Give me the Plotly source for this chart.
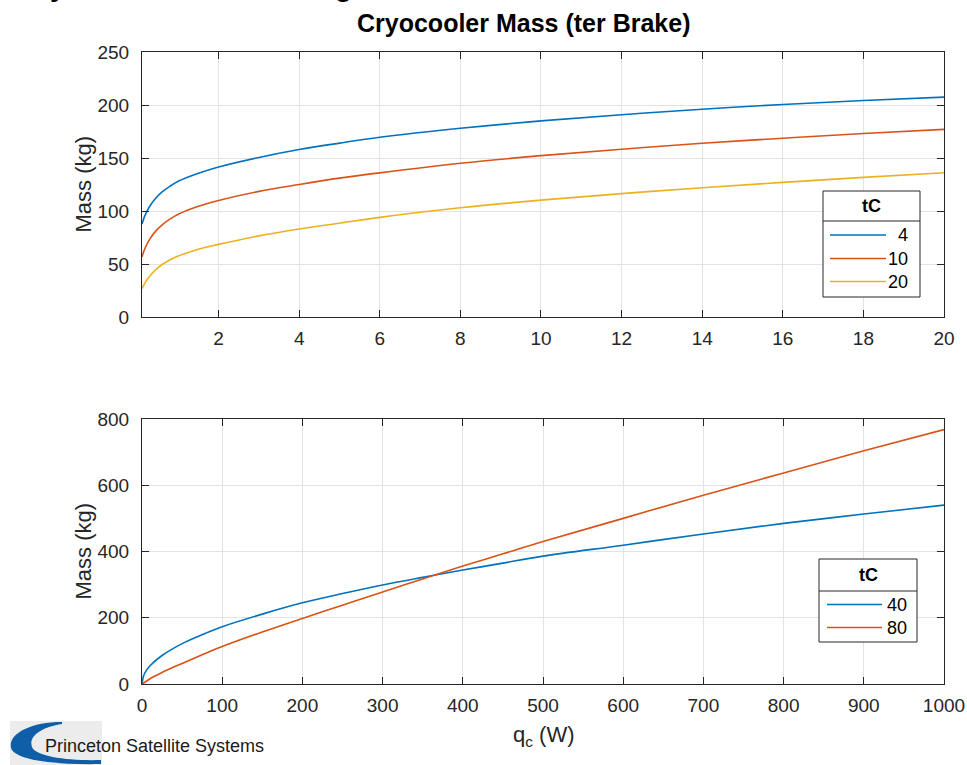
import plotly.graph_objects as go

# ---- data: cryocooler mass vs. cooling load, ter Brake scaling ----
# low-temperature cases (q_c from 0.1 to 20 W)
q_low = [0.1, 0.15, 0.2, 0.3, 0.45, 0.6, 0.8, 1, 1.5, 2, 3, 4, 5, 6, 8, 10,
         12, 14, 16, 18, 20]
mass_tc4 = [87.6, 93.5, 98, 105, 112.5, 118, 123.5, 128, 135.5, 141.5, 150.5,
            158, 164, 169.5, 178, 185, 190.8, 196, 200.5, 204.2, 207.4]
mass_tc10 = [56.7, 62.5, 67, 74, 81.5, 87, 92.5, 97, 104.5, 110, 118.5, 125,
             131, 136, 145, 152.2, 158.3, 163.9, 168.6, 173.1, 177]
mass_tc20 = [26.8, 30.5, 33.8, 39, 45, 49.5, 54, 57.5, 64, 68.5, 76.5, 83,
             88.5, 94, 103, 110.3, 116.4, 122, 127, 131.7, 136.1]

# higher-temperature cases (q_c from 0 to 1000 W)
q_high = [0, 2, 5, 10, 25, 50, 75, 100, 150, 200, 250, 300, 350, 400, 450,
          500, 600, 700, 800, 900, 1000]
mass_tc40 = [0, 25, 39, 55, 86, 122, 149, 173, 211, 245, 273, 299, 322, 344,
             365, 386, 419, 453, 485, 513, 540]
mass_tc80 = [0, 3, 7.5, 16, 35, 62, 88, 113, 157, 198, 238, 278, 317, 356,
             393, 430, 500, 570, 637, 704, 768]

low_labels = ["4", "10", "20"]
high_labels = ["40", "80"]
legend_title = "tC"

title_text = "Cryocooler Mass (ter Brake)"
ylabel = "Mass (kg)"
xlabel = "q<sub>c</sub> (W)"

BLUE, RED, YELLOW = "#0072BD", "#D95319", "#EDB120"
AXC = "#262626"
GRID = "#e3e3e3"
FONT = "Liberation Sans, Arial, sans-serif"

W, H = 967, 765


def px(x):
    return x / W


def py(y):
    return 1 - y / H


fig = go.Figure()

for ys, col in zip([mass_tc4, mass_tc10, mass_tc20], [BLUE, RED, YELLOW]):
    fig.add_trace(go.Scatter(x=q_low, y=ys, mode="lines", line_shape="spline",
                             line=dict(color=col, width=1.6),
                             xaxis="x", yaxis="y", showlegend=False))
for ys, col in zip([mass_tc40, mass_tc80], [BLUE, RED]):
    fig.add_trace(go.Scatter(x=q_high, y=ys, mode="lines", line_shape="spline",
                             line=dict(color=col, width=1.6),
                             xaxis="x2", yaxis="y2", showlegend=False))

axis_common = dict(showline=True, linecolor=AXC, linewidth=1, mirror="ticks",
                   ticks="inside", ticklen=7, tickcolor=AXC, showgrid=True,
                   gridcolor=GRID, zeroline=False, automargin=False,
                   tickfont=dict(family=FONT, size=19, color=AXC))
xaxis_extra = dict(ticklabelstandoff=4)
yaxis_extra = dict(ticklabelstandoff=8)

left, right = 142, 944
top1, bot1 = 52, 317
top2, bot2 = 419, 684
fig.update_layout(
    width=W, height=H,
    margin=dict(l=0, r=0, t=0, b=0, autoexpand=False),
    paper_bgcolor="white", plot_bgcolor="white",
    xaxis=dict(domain=[px(left), px(right)], range=[0.1, 20],
               tickvals=[2, 4, 6, 8, 10, 12, 14, 16, 18, 20], anchor="y",
               **axis_common, **xaxis_extra),
    yaxis=dict(domain=[py(bot1), py(top1)], range=[0, 250],
               tickvals=[0, 50, 100, 150, 200, 250], anchor="x",
               **axis_common, **yaxis_extra),
    xaxis2=dict(domain=[px(left), px(right)], range=[0, 1000],
                tickvals=list(range(0, 1001, 100)), anchor="y2",
                **axis_common, **xaxis_extra),
    yaxis2=dict(domain=[py(bot2), py(top2)], range=[0, 800],
                tickvals=[0, 200, 400, 600, 800], anchor="x2",
                **axis_common, **yaxis_extra),
)

shapes = []
annotations = []

# panel title
annotations.append(dict(x=px(523), y=py(23), xref="paper", yref="paper",
                        text="<b>" + title_text + "</b>", showarrow=False,
                        xanchor="center", yanchor="middle",
                        font=dict(family=FONT, size=25, color="black")))

# figure header, mostly above the page edge
annotations.append(dict(x=px(17), y=py(4), xref="paper", yref="paper",
                        text="<b>Cryocooler Mass Scaling</b>", showarrow=False,
                        xanchor="left", yanchor="bottom",
                        font=dict(family=FONT, size=28, color="black")))

# axis titles
for yc in [(top1 + bot1) / 2, (top2 + bot2) / 2]:
    annotations.append(dict(x=px(83), y=py(yc), xref="paper", yref="paper",
                            text=ylabel, textangle=-90, showarrow=False,
                            xanchor="center", yanchor="middle",
                            font=dict(family=FONT, size=22, color=AXC)))
annotations.append(dict(x=px((left + right) / 2), y=py(736), xref="paper", yref="paper",
                        text=xlabel, showarrow=False, xanchor="center", yanchor="middle",
                        font=dict(family=FONT, size=22, color=AXC)))


def legend_box(x0, x1, y0, ysep, y1, rows, labels, colors, line_x0, line_x1, label_x):
    shapes.append(dict(type="rect", xref="paper", yref="paper",
                       x0=px(x0), x1=px(x1), y0=py(y1), y1=py(y0),
                       line=dict(color=AXC, width=1), fillcolor="white", layer="above"))
    shapes.append(dict(type="line", xref="paper", yref="paper",
                       x0=px(x0), x1=px(x1), y0=py(ysep), y1=py(ysep),
                       line=dict(color=AXC, width=1), layer="above"))
    annotations.append(dict(x=px((x0 + x1) / 2), y=py((y0 + ysep) / 2), xref="paper",
                            yref="paper", text="<b>" + legend_title + "</b>",
                            showarrow=False, xanchor="center", yanchor="middle",
                            font=dict(family=FONT, size=18, color="black")))
    for yr, lab, col in zip(rows, labels, colors):
        shapes.append(dict(type="line", xref="paper", yref="paper",
                           x0=px(line_x0), x1=px(line_x1), y0=py(yr), y1=py(yr),
                           line=dict(color=col, width=1.6), layer="above"))
        annotations.append(dict(x=px(label_x), y=py(yr), xref="paper", yref="paper",
                                text=lab, showarrow=False, xanchor="right",
                                yanchor="middle",
                                font=dict(family=FONT, size=18, color="black")))


legend_box(823, 920, 191, 221, 297, [235, 258.5, 281.5], low_labels,
           [BLUE, RED, YELLOW], 830, 886, 910)
legend_box(819, 917, 559, 591, 642, [604.5, 627.5], high_labels,
           [BLUE, RED], 827, 882, 909)

# company logo in the lower-left corner
shapes.append(dict(type="rect", xref="paper", yref="paper",
                   x0=px(10), x1=px(102), y0=py(765), y1=py(721),
                   line=dict(width=0), fillcolor="#ececec", layer="above"))


def pth(points):
    out = []
    for cmd, pts in points:
        out.append(cmd + " " + " ".join(f"{px(a):.5f},{py(b):.5f}" for a, b in pts))
    return " ".join(out) + " Z"


crescent = pth([
    ("M", [(62, 722)]),
    ("C", [(30, 722), (8, 734), (11, 748)]),
    ("C", [(15, 761), (60, 765), (101, 764)]),
    ("L", [(101, 760)]),
    ("C", [(70, 761), (36, 757), (32, 747)]),
    ("C", [(28, 736), (42, 727), (62, 724)]),
])
shapes.append(dict(type="path", xref="paper", yref="paper", path=crescent,
                   fillcolor="#0f5fa8", line=dict(width=0), layer="above"))
annotations.append(dict(x=px(43), y=py(746), xref="paper", yref="paper",
                        text="Princeton Satellite Systems", showarrow=False,
                        xanchor="left", yanchor="middle",
                        font=dict(family=FONT, size=18, color="#1a1a1a")))

fig.update_layout(shapes=shapes, annotations=annotations)

fig.write_html("out.html")
